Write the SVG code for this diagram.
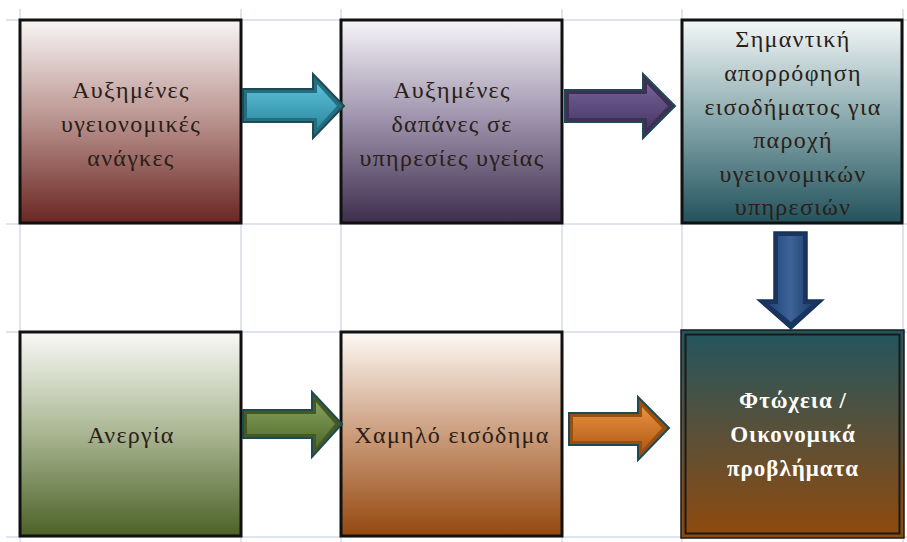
<svg xmlns="http://www.w3.org/2000/svg" width="907" height="542" viewBox="0 0 907 542">
<style>
.grid line{stroke:#d5dbe8;stroke-width:1.5}
.box{stroke:#111;stroke-width:3}
.t{font-family:"Liberation Serif","DejaVu Serif",serif;font-size:24px;letter-spacing:1.3px;fill:#2a2018;text-anchor:middle}
.tw{font-family:"Liberation Serif","DejaVu Serif",serif;font-size:23px;letter-spacing:1px;font-weight:bold;fill:#fff;text-anchor:middle}
.ao{stroke:#1f4a54;stroke-width:2;stroke-linejoin:miter}
</style>
<defs>
<linearGradient id="g1" x1="0" y1="0" x2="0" y2="1"><stop offset="0" stop-color="#f8f5f5"/><stop offset="0.5" stop-color="#b8918d"/><stop offset="1" stop-color="#6a2622"/></linearGradient>
<linearGradient id="g2" x1="0" y1="0" x2="0" y2="1"><stop offset="0" stop-color="#f6f5f8"/><stop offset="0.5" stop-color="#9b90a9"/><stop offset="1" stop-color="#3e2e4e"/></linearGradient>
<linearGradient id="g3" x1="0" y1="0" x2="0" y2="1"><stop offset="0" stop-color="#f4f7f7"/><stop offset="0.5" stop-color="#86a7ab"/><stop offset="1" stop-color="#23525c"/></linearGradient>
<linearGradient id="g4" x1="0" y1="0" x2="0" y2="1"><stop offset="0" stop-color="#f9f9f6"/><stop offset="0.5" stop-color="#a9b592"/><stop offset="1" stop-color="#4c6128"/></linearGradient>
<linearGradient id="g5" x1="0" y1="0" x2="0" y2="1"><stop offset="0" stop-color="#fdf9f6"/><stop offset="0.5" stop-color="#cb9d7c"/><stop offset="1" stop-color="#94480f"/></linearGradient>
<linearGradient id="g6" x1="0" y1="0" x2="0" y2="1"><stop offset="0" stop-color="#22555f"/><stop offset="0.5" stop-color="#5a5038"/><stop offset="1" stop-color="#904a0c"/></linearGradient>
<linearGradient id="a1" x1="0" y1="0" x2="0" y2="1"><stop offset="0" stop-color="#5cc0d8"/><stop offset="1" stop-color="#2d8aa2"/></linearGradient>
<linearGradient id="a2" x1="0" y1="0" x2="0" y2="1"><stop offset="0" stop-color="#74619a"/><stop offset="1" stop-color="#483864"/></linearGradient>
<linearGradient id="a3" x1="0" y1="0" x2="1" y2="0"><stop offset="0" stop-color="#22457a"/><stop offset="0.5" stop-color="#3d6398"/><stop offset="1" stop-color="#1f3e6e"/></linearGradient>
<linearGradient id="a4" x1="0" y1="0" x2="0" y2="1"><stop offset="0" stop-color="#84a05a"/><stop offset="1" stop-color="#536b2e"/></linearGradient>
<linearGradient id="a5" x1="0" y1="0" x2="0" y2="1"><stop offset="0" stop-color="#e8923f"/><stop offset="1" stop-color="#b45c18"/></linearGradient>
</defs>
<rect width="907" height="542" fill="#fff"/>
<g class="grid">
<line x1="6" y1="20" x2="907" y2="20"/>
<line x1="6" y1="224" x2="907" y2="224"/>
<line x1="6" y1="332" x2="907" y2="332"/>
<line x1="6" y1="537" x2="907" y2="537"/>
<line x1="20" y1="9" x2="20" y2="542"/>
<line x1="241" y1="9" x2="241" y2="542"/>
<line x1="341" y1="9" x2="341" y2="542"/>
<line x1="562" y1="9" x2="562" y2="542"/>
<line x1="682" y1="9" x2="682" y2="542"/>
<line x1="903" y1="9" x2="903" y2="542"/>
</g>
<g id="node1">
<rect class="box" x="20" y="20" width="221" height="203" fill="url(#g1)"/>
<text class="t" x="131" y="98">Αυξημένες</text>
<text class="t" x="131" y="132">υγειονομικές</text>
<text class="t" x="131" y="166">ανάγκες</text>
</g>
<g id="node2">
<rect class="box" x="341" y="20" width="221" height="203" fill="url(#g2)"/>
<text class="t" x="452" y="98">Αυξημένες</text>
<text class="t" x="452" y="132">δαπάνες σε</text>
<text class="t" x="452" y="166">υπηρεσίες υγείας</text>
</g>
<g id="node3">
<rect class="box" x="682" y="20" width="220" height="203" fill="url(#g3)"/>
<text class="t" x="793" y="47">Σημαντική</text>
<text class="t" x="793" y="81">απορρόφηση</text>
<text class="t" x="793" y="115">εισοδήματος για</text>
<text class="t" x="793" y="148">παροχή</text>
<text class="t" x="793" y="182">υγειονομικών</text>
<text class="t" x="793" y="215">υπηρεσιών</text>
</g>
<g id="node4">
<rect class="box" x="20" y="332" width="221" height="204" fill="url(#g4)"/>
<text class="t" x="131" y="443">Ανεργία</text>
</g>
<g id="node5">
<rect class="box" x="341" y="332" width="221" height="204" fill="url(#g5)"/>
<text class="t" x="452" y="443">Χαμηλό εισόδημα</text>
</g>
<g id="node6">
<rect x="681" y="330" width="223" height="208" fill="url(#g6)" stroke="#1a1a1a" stroke-width="1.5"/>
<rect x="685.5" y="334.5" width="214" height="199" fill="none" stroke="#1a1a1a" stroke-width="2"/>
<text class="tw" x="793" y="408">Φτώχεια /</text>
<text class="tw" x="793" y="442">Οικονομικά</text>
<text class="tw" x="793" y="476">προβλήματα</text>
</g>
<g id="connectors">
<path class="ao" d="M243,89 L313,89 L313,74 L344,106 L313,138 L313,122 L243,122 Z" fill="#236e80"/>
<path d="M247,93 L317,93 L317,84 L337,106 L317,128 L317,118 L247,118 Z" fill="url(#a1)"/>
<path class="ao" d="M565,90 L643,90 L643,74 L675,106 L643,138 L643,122 L565,122 Z" fill="#3e2f55"/>
<path d="M569,94 L647,94 L647,84 L668,106 L647,128 L647,118 L569,118 Z" fill="url(#a2)"/>
<path d="M774,232 L807,232 L807,300 L823,300 L791,329 L758,300 L774,300 Z" fill="#1a3560" stroke="#18305a" stroke-width="1.5"/>
<path d="M778,236 L803,236 L803,304 L812,304 L791,322 L769,304 L778,304 Z" fill="url(#a3)"/>
<path class="ao" d="M243,410 L312,410 L312,392 L342,424 L312,457 L312,438 L243,438 Z" fill="#445a24"/>
<path d="M247,414 L316,414 L316,402 L335,424 L316,447 L316,434 L247,434 Z" fill="url(#a4)"/>
<path class="ao" d="M569,413 L638,413 L638,397 L669,428 L638,460 L638,445 L569,445 Z" fill="#9a4f12"/>
<path d="M573,417 L642,417 L642,407 L662,428 L642,450 L642,441 L573,441 Z" fill="url(#a5)"/>
</g>
</svg>
